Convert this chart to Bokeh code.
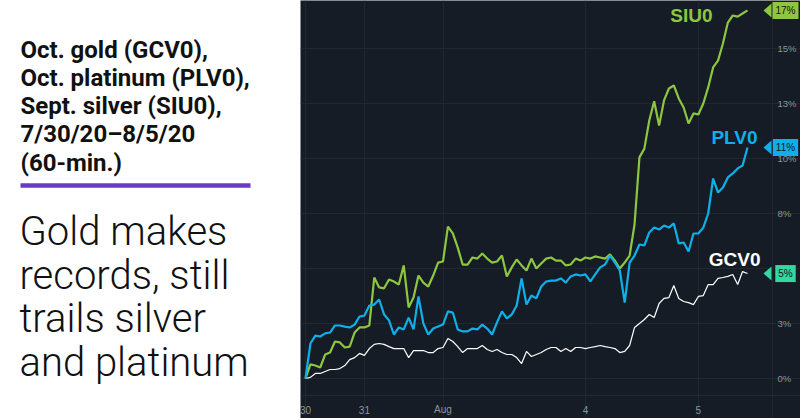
from bokeh.plotting import figure
from bokeh.models import Range1d, Label, FixedTicker, PolyAnnotation, Span
from bokeh.layouts import row
from bokeh.embed import file_html
from bokeh.resources import INLINE

# ---------------- data (percent change, 60-min bars) ----------------
siu0 = [0, 0.64, 0.59, 0.5, 1.09, 1.18, 1.68, 1.64, 1.41, 1.45, 2.09, 2.32, 2.32, 2.41,
        4.59, 4.14, 4.1, 4.5, 4.41, 4.27, 5.14, 3.23, 3.68, 4.68, 4.36, 4.18, 4.68, 5.27,
        5.32, 6.9, 6.6, 5.95, 5.18, 5.18, 5.5, 5.45, 5.68, 5.45, 5.27, 5.32, 5.59, 4.64,
        5.05, 5.41, 5.14, 4.91, 5.45, 5.0, 5.23, 5.45, 5.5, 5.36, 5.36, 5.14, 5.18, 5.45,
        5.36, 5.5, 5.45, 5.55, 5.5, 5.45, 5.64, 5.36, 5.0, 5.27, 5.59, 7.0, 10.05, 10.45,
        11.73, 12.6, 11.5, 12.64, 13.18, 13.32, 12.73, 12.32, 11.59, 12.05, 12.0, 12.5,
        13.23, 14.14, 14.45, 15.23, 16.18, 16.5, 16.45, 16.59, 16.73]
plv0 = [0, 1.59, 1.95, 1.91, 2.05, 2.09, 2.41, 2.41, 2.36, 2.32, 2.45, 2.82, 2.86, 3.32,
        3.36, 3.59, 2.91, 2.64, 2.0, 2.32, 2.23, 2.77, 2.23, 3.73, 2.5, 2.0, 2.27, 2.36,
        2.45, 3.05, 3.0, 2.23, 2.14, 2.14, 2.27, 2.23, 2.45, 2.27, 2.0, 2.55, 3.05, 2.73,
        2.91, 3.32, 4.55, 3.36, 3.77, 3.64, 4.18, 4.41, 4.45, 4.45, 4.55, 4.36, 4.64, 4.73,
        4.68, 4.73, 4.41, 4.73, 5.05, 5.18, 5.59, 5.27, 4.91, 3.45, 5.27, 5.59, 6.09, 6.05,
        6.64, 6.86, 6.77, 6.95, 6.86, 7.05, 6.14, 6.18, 5.77, 6.59, 6.59, 6.86, 7.5, 9.09,
        8.45, 8.68, 9.14, 9.32, 9.55, 9.68, 10.5]
gcv0 = [0, 0.05, 0.23, 0.23, 0.32, 0.41, 0.41, 0.45, 0.59, 0.86, 0.95, 1.14, 1.05, 1.36,
        1.55, 1.59, 1.55, 1.45, 1.36, 1.36, 1.36, 0.95, 1.27, 1.27, 1.27, 1.18, 1.18, 1.36,
        1.41, 1.82, 1.68, 1.45, 1.18, 1.36, 1.36, 1.36, 1.5, 1.32, 1.23, 1.32, 1.18, 1.09,
        1.09, 0.95, 0.68, 1.23, 1.0, 1.09, 1.18, 1.32, 1.41, 1.41, 1.23, 1.36, 1.23, 1.41,
        1.41, 1.36, 1.41, 1.45, 1.5, 1.45, 1.41, 1.36, 1.18, 1.23, 1.5, 2.32, 2.5, 2.68,
        2.91, 2.77, 3.41, 3.64, 3.68, 4.23, 3.64, 3.5, 3.45, 3.36, 3.73, 3.77, 4.27, 4.27,
        4.55, 4.59, 4.64, 4.73, 4.27, 4.86, 4.77]
hours = list(range(len(siu0)))

x_tick_idx = [0, 12, 28, 57, 80]
x_tick_labels = ["30", "31", "Aug", "4", "5"]
y_ticks = [0, 2.5, 5, 7.5, 10, 12.5, 15]
y_tick_labels = ["0%", "3%", "5%", "8%", "10%", "13%", "15%"]

series_names = ["SIU0", "PLV0", "GCV0"]
badge_texts = ["17%", "11%", "5%"]

title_lines = ["Oct. gold (GCV0),", "Oct. platinum (PLV0),", "Sept. silver (SIU0),",
               "7/30/20\u20138/5/20", "(60-min.)"]
subtitle_lines = ["Gold makes", "records, still", "trails silver", "and platinum"]

# ---------------- styles ----------------
BG = "#151c25"
GRID = "#1e2833"
GREEN = "#8dc63f"
BLUE = "#0fb0ea"
WHITE = "#ffffff"
MINT = "#35d6a0"
TICK = "#8e949b"
W, H = 800, 418
LEFT_W = 300

# ---------------- left text panel ----------------
left = figure(width=LEFT_W, height=H, x_range=Range1d(0, LEFT_W), y_range=Range1d(H, 0),
              x_axis_location=None, y_axis_location=None, output_backend="svg",
              toolbar_location=None, min_border=0, title=None)
left.grid.visible = False
left.outline_line_color = None
left.background_fill_color = "white"
left.border_fill_color = "white"

for i, t in enumerate(title_lines):
    left.add_layout(Label(x=20, y=49 + i * 28.3, text=t, text_font="Roboto",
                          text_font_style="bold", text_font_size="24px",
                          text_baseline="alphabetic", text_color="#111111"))

# purple divider
left.quad(left=[20], right=[250], top=[182.7], bottom=[187.3],
          fill_color="#6a3bc9", line_color=None)

for i, t in enumerate(subtitle_lines):
    left.add_layout(Label(x=19, y=231 + i * 43.5, text=t, text_font="Roboto Light",
                          text_font_size="40px", text_baseline="alphabetic",
                          text_color="#111111"))

# ---------------- chart panel ----------------
CW = W - LEFT_W
px_per_idx = 4.911
x0 = -5 / px_per_idx
px_per_pct = 22.0
zero_px = 378          # screen row of 0 %
plot_bottom_px = 395   # bottom edge of the price pane
y0 = -(H - zero_px) / px_per_pct
p = figure(width=CW, height=H,
           x_range=Range1d(x0, x0 + CW / px_per_idx),
           y_range=Range1d(y0, y0 + H / px_per_pct),
           x_axis_location=None, y_axis_location=None, output_backend="svg",
           toolbar_location=None, min_border=0, title=None)
p.background_fill_color = BG
p.border_fill_color = BG
p.outline_line_color = None

scale_edge = 472  # left edge of the price scale, in screen px of the frame
pane_bottom = -(plot_bottom_px - zero_px) / px_per_pct
p.xgrid.ticker = FixedTicker(ticks=x_tick_idx)
p.ygrid.ticker = FixedTicker(ticks=y_ticks)
p.ygrid.bounds = (x0, x0 + scale_edge / px_per_idx)
p.xgrid.bounds = (pane_bottom, y0 + H / px_per_pct)
p.grid.grid_line_color = GRID
p.grid.grid_line_width = 1
p.add_layout(Span(location=scale_edge, location_units="screen", dimension="height",
                  line_color=GRID, line_width=1))
p.add_layout(Span(location=pane_bottom, dimension="width",
                  line_color=GRID, line_width=1))

# time-axis labels
for t, lab in zip(x_tick_idx, x_tick_labels):
    p.add_layout(Label(x=t, y=H - 409, y_units="screen", text=lab, text_align="center",
                       text_baseline="middle", text_color=TICK,
                       text_font="Liberation Sans", text_font_size="10px"))
# price-scale labels
for t, lab in zip(y_ticks, y_tick_labels):
    p.add_layout(Label(x=477, y=t, x_units="screen", text=lab, text_align="left",
                       text_baseline="middle", text_color=TICK,
                       text_font="Liberation Sans", text_font_size="9.5px"))

p.line(hours, gcv0, line_color=WHITE, line_width=1.2)
p.line(hours, siu0, line_color=GREEN, line_width=2.2)
p.line(hours, plv0, line_color=BLUE, line_width=2.2)

last = hours[-1]
series = [siu0, plv0, gcv0]
colors = [GREEN, BLUE, WHITE]
badge_colors = [GREEN, BLUE, MINT]
name_offsets = [(-35, -5), (10, 10), (13, 14)]
for s, name, col, bcol, btxt, (dx, dy) in zip(series, series_names, colors,
                                              badge_colors, badge_texts, name_offsets):
    v = s[-1]
    p.add_layout(Label(x=last, y=v, x_offset=dx, y_offset=dy, text=name,
                       text_align="right", text_baseline="middle", text_color=col,
                       text_font="Liberation Sans", text_font_style="bold",
                       text_font_size="19px"))
    d = 7 / px_per_pct
    p.add_layout(PolyAnnotation(xs=[463, 471, 471], ys=[v, v + d, v - d],
                                xs_units="screen", ys_units="data",
                                fill_color=bcol, fill_alpha=1, line_color=None))
    p.add_layout(Label(x=485, y=v, x_units="screen", text=btxt, text_align="center",
                       text_baseline="middle", text_color="#10161d",
                       text_font="Liberation Sans", text_font_size="10px",
                       background_fill_color=bcol, background_fill_alpha=1,
                       padding=3))

layout = row(left, p)
open("out.html", "w").write(file_html(layout, INLINE))
